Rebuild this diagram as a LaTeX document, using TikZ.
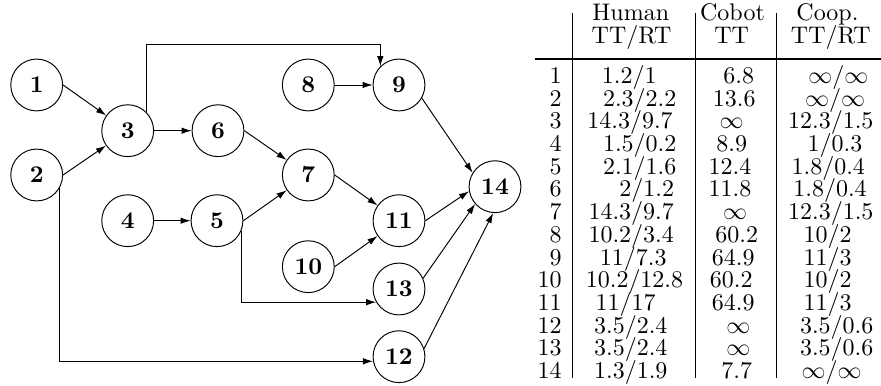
\documentclass[tikz,border=0pt]{standalone}
\usetikzlibrary{arrows.meta}
\begin{document}
\begin{tikzpicture}[x={(0.416667pt,0)},y={(0,-0.416667pt)},
  task/.style={draw,circle,minimum size=21.6pt,inner sep=0pt,font=\bfseries},
  conn/.style={-{Latex[length=4.2pt,width=2.7pt]}},
  cell/.style={anchor=base,inner sep=0pt},
  rowlab/.style={anchor=base east,inner sep=0pt},
  rule/.style={line width=0.4pt}]
\useasboundingbox (0,0) rectangle (881,386);
% graph nodes
\node[task] (n1) at (36.7,85) {1};
\node[task] (n2) at (36.7,175) {2};
\node[task] (n3) at (127.7,130.7) {3};
\node[task] (n4) at (127.7,220.7) {4};
\node[task] (n5) at (217,220.7) {5};
\node[task] (n6) at (218,130.7) {6};
\node[task] (n7) at (308.3,175) {7};
\node[task] (n8) at (308.3,85) {8};
\node[task] (n9) at (399,85) {9};
\node[task] (n10) at (308.3,266.7) {10};
\node[task] (n11) at (399,220.7) {11};
\node[task] (n12) at (399,356.7) {12};
\node[task] (n13) at (399,289) {13};
\node[task] (n14) at (495,186.7) {14};
\coordinate (top) at (0,44.3);
% connectors
\draw[conn] (n1.east) -- (n3);
\draw[conn] (n2.east) -- (n3);
\draw[conn] (n3.east) -- (n6.west);
\draw[conn] (n3.north east) -- (n3.north east |- top) -| (n9.north west);
\draw[conn] (n8.east) -- (n9.west);
\draw[conn] (n6.east) -- (n7);
\draw[conn] (n4.east) -- (n5.west);
\draw[conn] (n5.east) -- (n7);
\draw[conn] (n7.east) -- (n11);
\draw[conn] (n10.east) -- (n11);
\draw[conn] (n5.-22) |- (n13.210);
\draw[conn] (n2.-30) |- (n12.190);
\draw[conn] (n9.-30) -- (n14.148);
\draw[conn] (n11.east) -- (n14.190);
\draw[conn] (n13.24) -- (n14.221);
\draw[conn] (n12.18) -- (n14.266);
% table header
\node[cell] (hh1) at (630.8,20.7) {Human};
\node[cell] (hh2) at (631.5,44) {TT/RT};
\node[cell] (hc1) at (732.5,20.7) {Cobot};
\node[cell] (hc2) at (731.7,44) {TT};
\node[cell] (hp1) at (827.5,20.7) {Coop.};
\node[cell] (hp2) at (830.8,44) {TT/RT};
% table rules
\draw[line width=0.8pt] (535,58.8) -- (881,58.8);
\draw[rule] (572.5,13.3) -- (572.5,378);
\draw[rule] (695,13.3) -- (695,378);
\draw[rule] (776.7,13.3) -- (776.7,378);
% table body
\foreach \r/\h/\hx/\c/\cx/\p/\px in {
 1/{1.2/1}/629.3/{6.8}/738.8/{$\infty/\infty$}/838.3,
 2/{2.3/2.2}/639.7/{13.6}/734.2/{$\infty/\infty$}/835,
 3/{14.3/9.7}/630/{$\infty$}/731.7/{12.3/1.5}/830.8,
 4/{1.5/0.2}/639.7/{8.9}/731.7/{1/0.3}/835,
 5/{2.1/1.6}/639.7/{12.4}/730/{1.8/0.4}/828.3,
 6/{2/1.2}/646.7/{11.8}/730/{1.8/0.4}/830,
 7/{14.3/9.7}/631.2/{$\infty$}/735/{12.3/1.5}/830.8,
 8/{10.2/3.4}/631.2/{60.2}/736.7/{10/2}/827.5,
 9/{11/7.3}/633.3/{64.9}/733.3/{11/3}/827.5,
 10/{10.2/12.8}/634.5/{60.2}/731.3/{10/2}/827.5,
 11/{11/17}/625.5/{64.9}/733.3/{11/3}/827.5,
 12/{3.5/2.4}/630.8/{$\infty$}/738.3/{3.5/0.6}/836.7,
 13/{3.5/2.4}/630.8/{$\infty$}/738.3/{3.5/0.6}/836.7,
 14/{1.3/1.9}/630.8/{7.7}/736.7/{$\infty/\infty$}/831.7}{
  \pgfmathsetmacro{\yy}{83.5+22.7*(\r-1)}
  \node[rowlab] (r\r) at (562,\yy) {\r};
  \node[cell] (h\r) at (\hx,\yy) {\h};
  \node[cell] (c\r) at (\cx,\yy) {\c};
  \node[cell] (p\r) at (\px,\yy) {\p};
}
\end{tikzpicture}
\end{document}
